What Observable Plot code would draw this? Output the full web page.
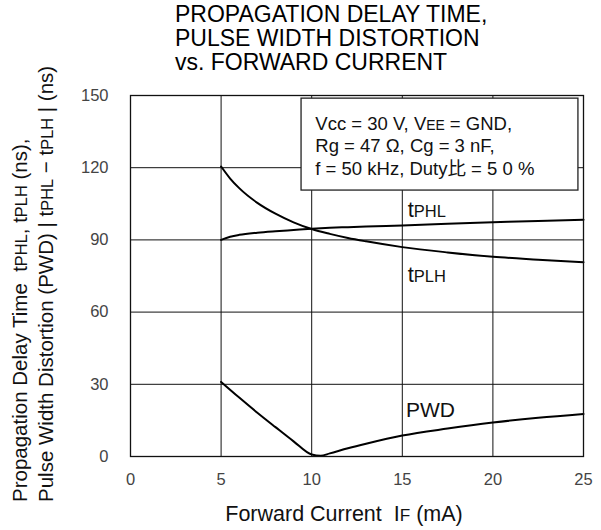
<!DOCTYPE html>
<html><head><meta charset="utf-8">
<script src="https://cdn.jsdelivr.net/npm/d3@7"></script>
<script src="https://cdn.jsdelivr.net/npm/@observablehq/plot@0.6"></script>
<style>
body{margin:0;background:#fff;}
svg{font-family:"Liberation Sans",Arial,"Noto Sans CJK JP",sans-serif;}
svg text{white-space:pre;}
</style>
</head><body><div id="chart"></div>
<script>
// ---- data ----
const currentDelay = [5, 5.5, 6, 7, 8, 9, 10, 11, 12, 13, 15, 17.5, 20, 22.5, 25];
const tPLH = [120.5, 115.5, 111.5, 105.4, 100.9, 97.3, 94.5, 92.5, 90.8, 89.4, 87.0, 84.8, 83.0, 81.8, 80.7];
const tPHL = [90.0, 91.3, 92.1, 93.0, 93.6, 94.1, 94.6, 95.0, 95.3, 95.6, 96.0, 96.7, 97.3, 97.9, 98.4];
const currentPWD = [5, 6, 7, 8, 9, 10, 10.5, 11, 12, 13, 15, 17.5, 20, 22.5, 25];
const PWD = [31, 24.5, 18.2, 12.2, 6.3, 0.8, 0.3, 1.3, 3.4, 5.3, 8.7, 11.6, 14.1, 16.1, 17.7];
const xTicks = [0, 5, 10, 15, 20, 25];
const yTicks = [0, 30, 60, 90, 120, 150];
const titleLines = ["PROPAGATION DELAY TIME,", "PULSE WIDTH DISTORTION", "vs. FORWARD CURRENT"];
const yLabelLines = ["Propagation Delay Time  t{PHL}, t{PLH} (ns),", "Pulse Width Distortion (PWD) | t{PHL} \u2212 t{PLH} | (ns)"];
const xLabel = "Forward Current  I{F} (mA)";
const curveLabels = [
  {text: "t{PHL}", x: 15.3, y: 102.6, size: 22},
  {text: "t{PLH}", x: 15.3, y: 75.6, size: 22},
  {text: "PWD", x: 15.2, y: 19.3, size: 21}
];
const condLines = ["Vcc = 30 V, V{EE} = GND,", "Rg = 47 \u03a9, Cg = 3 nF,", "f = 50 kHz, Duty\u6bd4 = 5 0 %"];
const condY = [138.1, 128.8, 119.4];
const condBox = {x1: 9.44, x2: 24.72, y1: 110.5, y2: 148.7};
const condX = 10.2;

const delayRows = currentDelay.map((c, i) => ({c, tPLH: tPLH[i], tPHL: tPHL[i]}));
const pwdRows = currentPWD.map((c, i) => ({c, v: PWD[i]}));
const condRows = condLines.map((t, i) => ({t, y: condY[i]}));

const chart = Plot.plot({
  width: 601, height: 530,
  marginLeft: 130, marginRight: 18, marginTop: 95, marginBottom: 74,
  style: {fontFamily: "'Liberation Sans', Arial, 'Noto Sans CJK JP', sans-serif", background: "#fff", color: "#000"},
  x: {domain: [0, 25], ticks: xTicks},
  y: {domain: [0, 150], ticks: yTicks},
  marks: [
    Plot.gridX(xTicks, {stroke: "#111", strokeOpacity: 1, strokeWidth: 1}),
    Plot.gridY(yTicks, {stroke: "#111", strokeOpacity: 1, strokeWidth: 1}),
    Plot.line(delayRows, {x: "c", y: "tPLH", stroke: "#000", strokeWidth: 2, curve: "monotone-x"}),
    Plot.line(delayRows, {x: "c", y: "tPHL", stroke: "#000", strokeWidth: 2, curve: "monotone-x"}),
    Plot.line(pwdRows, {x: "c", y: "v", stroke: "#000", strokeWidth: 2, curve: "monotone-x"}),
    Plot.rect([condBox], {x1: "x1", x2: "x2", y1: "y1", y2: "y2", fill: "#fff", stroke: "#222", strokeWidth: 1.3}),
    Plot.text(condRows, {x: () => condX, y: "y", text: "t", textAnchor: "start", fontSize: 18.5, fill: "#111", className: "rich"}),
    Plot.text(curveLabels, {x: "x", y: "y", text: "text", textAnchor: "start", fontSize: d => d.size, fill: "#111", className: "rich"}),
    Plot.frame({stroke: "#111", strokeWidth: 1.3}),
    Plot.axisX(xTicks, {tickSize: 0, tickPadding: 17, fontSize: 16.5, fill: "#444", label: null}),
    Plot.axisY(yTicks, {tickSize: 0, tickPadding: 22, fontSize: 16.5, fill: "#444", label: null})
  ]
});

const svg = d3.select(chart);

function richify(sel, ratio) {
  sel.each(function() {
    const el = d3.select(this);
    const txt = this.textContent;
    el.text(null);
    txt.split(/(\{[^}]*\})/).filter(s => s.length).forEach(part => {
      if (part.startsWith("{")) {
        el.append("tspan").attr("font-size", ratio + "em").text(part.slice(1, -1));
      } else {
        el.append("tspan").text(part);
      }
    });
  });
}
richify(svg.selectAll("g.rich text"), 0.75);

// title
const title = svg.append("g").attr("font-size", 23).attr("fill", "#000").attr("text-anchor", "start");
titleLines.forEach((t, i) => {
  title.append("text").attr("x", 175).attr("y", 22 + i * 24).text(t);
});

// y-axis label (two rotated lines, start-aligned at the bottom)
const yl = svg.append("g").attr("font-size", 20.5).attr("fill", "#111").attr("text-anchor", "start");
[27, 53].forEach((bx, i) => {
  yl.append("text")
    .attr("transform", `translate(${bx},502) rotate(-90)`)
    .text(yLabelLines[i]);
});
richify(yl.selectAll("text"), 0.8);

// x-axis label
const xl = svg.append("text").attr("x", 344).attr("y", 521).attr("text-anchor", "middle")
  .attr("font-size", 21.5).attr("fill", "#111").text(xLabel);
richify(xl, 0.8);

document.getElementById("chart").append(chart);
</script>
</body></html>
